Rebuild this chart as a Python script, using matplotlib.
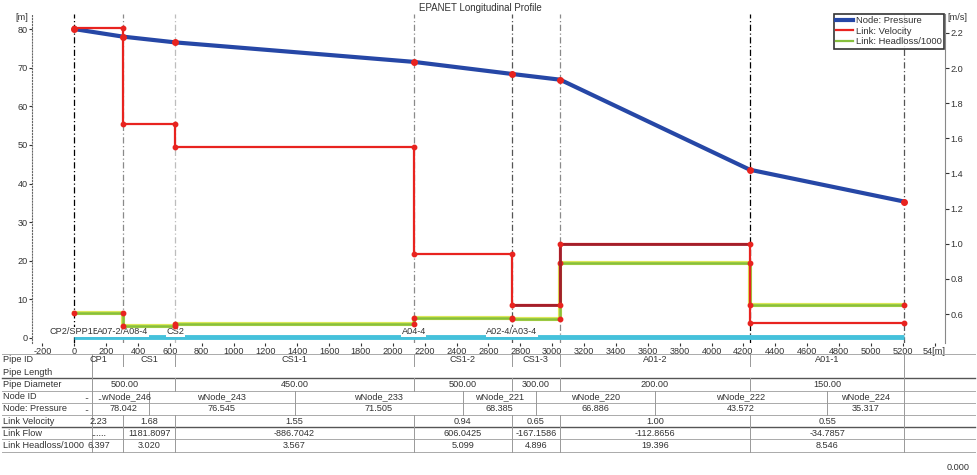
import numpy as np
import matplotlib
matplotlib.use('Agg')
import matplotlib.pyplot as plt
import matplotlib.patheffects as pe
from matplotlib.lines import Line2D
from matplotlib.ticker import MultipleLocator, FuncFormatter

plt.rcParams['font.family'] = ['Liberation Sans', 'DejaVu Sans']

# profile nodes (chainage in m)
node_x = [0, 305, 635, 2130, 2745, 3050, 4240, 5210]
node_names = ['CP2/SPP1E', 'A07-2/A08-4', 'CS2', 'A04-4', 'A02-4/A03-4', '', '', '']
node_ids = ['..', '..wNode_246', 'wNode_243', 'wNode_233', 'wNode_221', 'wNode_220', 'wNode_222', 'wNode_224']
node_pressure = [80.0, 78.042, 76.545, 71.505, 68.385, 66.886, 43.572, 35.317]
node_elevation = [0.3, 0.3, 0.3, 0.3, 0.3, 0.3, 0.3, 0.3]

# links between consecutive nodes
pipe_ids = ['CP1', 'CS1', 'CS1-1', 'CS1-2', 'CS1-3', 'A01-2', 'A01-1']
pipe_diameter = [500.00, 500.00, 450.00, 500.00, 300.00, 200.00, 150.00]
link_velocity = [2.23, 1.68, 1.55, 0.94, 0.65, 1.00, 0.55]
link_flow = [None, 1181.8097, -886.7042, 606.0425, -167.1586, -112.8656, -34.7857]
link_headloss = [6.397, 3.020, 3.567, 5.099, 4.896, 19.396, 8.546]

row_names = ['Pipe ID', 'Pipe Length', 'Pipe Diameter', 'Node ID', 'Node: Pressure',
             'Link Velocity', 'Link Flow', 'Link Headloss/1000']

# styling
vline_colors = ['black', '#8a8a8a', '#bdbdbd', '#8a8a8a', '#555555', '#8a8a8a', 'black', '#555555']
dark_links = {4, 5}
RED = '#e8231f'
DARK_RED = '#a31e2a'
GREEN = '#86bf3c'
BLUE = '#2647a6'
TXT = '#333333'
FS = 6.6

W, H = 978, 475
def fx(p):
    return p / W
def fy(p):
    return 1 - p / H

fig = plt.figure(figsize=(W / 100, H / 100), dpi=100)
ax = fig.add_axes([fx(32), fy(343), fx(945) - fx(32), fy(14) - fy(343)])
ax.set_xlim(-265, 5465)
ax.set_ylim(-1.3, 83.9)
ax2 = ax.twinx()
ax2.set_ylim(0.435, 2.308)

# node verticals
for x, c in zip(node_x, vline_colors):
    ax.axvline(x, color=c, lw=0.9, ls=(0, (5, 2, 1, 2)), zorder=1)

# pipe line along the bottom
ax.plot(node_x, node_elevation, color='#45c1db', lw=3.5, solid_capstyle='butt', zorder=2)
for x, name in zip(node_x, node_names):
    if name:
        ax.text(x, 1.6, name, ha='center', va='center', fontsize=FS, color=TXT, zorder=3,
                bbox=dict(boxstyle='square,pad=0.05', fc='white', ec='none'))

# headloss / 1000 (left axis)
sx = np.repeat(node_x, 2)[1:-1]
hs = np.repeat(link_headloss, 2)
ax.plot(sx, hs, color=GREEN, lw=1.8, zorder=4,
        path_effects=[pe.Stroke(linewidth=3.0, foreground='#dbe85a'), pe.Normal()])
ax.plot(sx, hs, 'o', color=RED, ms=3.2, zorder=6)

# node pressure
ax.plot(node_x, node_pressure, color=BLUE, lw=3.0, zorder=5, solid_capstyle='round')
ax.plot(node_x, node_pressure, 'o', color=RED, ms=4, zorder=6)

# link velocity (right axis)
vs = np.repeat(link_velocity, 2)
ax2.plot(sx, vs, color=RED, lw=1.6, zorder=4)
for i in dark_links:
    ax2.plot(node_x[i:i + 2], [link_velocity[i]] * 2, color=DARK_RED, lw=2.0, zorder=5)
    if i + 1 in dark_links:
        ax2.plot([node_x[i + 1]] * 2, link_velocity[i:i + 2], color=DARK_RED, lw=2.0, zorder=5)
ax2.plot(sx, vs, 'o', color=RED, ms=3.2, zorder=6)

# axes cosmetics
for s in ['top', 'bottom', 'right']:
    ax.spines[s].set_visible(False)
ax.spines['left'].set_linestyle(':')
ax.spines['left'].set_color('#666666')
for s in ['top', 'bottom', 'left']:
    ax2.spines[s].set_visible(False)
ax2.spines['right'].set_color('#888888')

ax.xaxis.set_major_locator(MultipleLocator(200))
ax.xaxis.set_major_formatter(FuncFormatter(lambda v, p: '54[m]' if v == 5400 else '%d' % v))
ax.yaxis.set_major_locator(MultipleLocator(10))
ax.tick_params(axis='x', length=2, pad=1, labelsize=FS, colors=TXT)
ax.tick_params(axis='y', length=2, pad=1, labelsize=FS, colors=TXT)
ax2.yaxis.set_major_locator(MultipleLocator(0.2))
ax2.yaxis.set_major_formatter(FuncFormatter(lambda v, p: '%.1f' % v))
ax2.tick_params(axis='y', length=3, pad=1, labelsize=FS, colors=TXT)

fig.text(fx(480), fy(8), 'EPANET Longitudinal Profile', ha='center', va='center', fontsize=7, color=TXT)
fig.text(fx(22), fy(17), '[m]', ha='center', va='center', fontsize=FS, color=TXT)
fig.text(fx(957), fy(18), '[m/s]', ha='center', va='center', fontsize=FS, color=TXT)
fig.text(fx(958), fy(467), '0.000', ha='center', va='center', fontsize=FS, color=TXT)

handles = [Line2D([], [], color=BLUE, lw=3), Line2D([], [], color=RED, lw=1.6),
           Line2D([], [], color=GREEN, lw=1.6)]
leg = ax.legend(handles, ['Node: Pressure', 'Link: Velocity', 'Link: Headloss/1000'],
                loc='upper right', bbox_to_anchor=(0.999, 1.0), fontsize=6.8, frameon=True,
                fancybox=False, borderpad=0.25, labelspacing=0.15, handlelength=1.8,
                handletextpad=0.3, borderaxespad=0)
leg.get_frame().set_edgecolor('black')
leg.get_frame().set_linewidth(1.2)
leg.set_zorder(10)
for t in leg.get_texts():
    t.set_color(TXT)

# data table under the profile, x aligned with the chart axis
tab = fig.add_axes([0, 0, 1, fy(345)])
x0, x1 = ax.get_xlim()
k = (x1 - x0) / (945 - 32)
tab.set_xlim(x0 - 32 * k, x1 + (W - 945) * k)
tab.set_ylim(H, 345)
tab.axis('off')

def px(p):
    return x0 + (p - 32) * k

row_h = 12.2
row_y = [360 + row_h * i for i in range(len(row_names))]

for i, name in enumerate(row_names):
    tab.text(px(3), row_y[i], name, ha='left', va='center', fontsize=FS, color=TXT)

for i in range(len(row_names) + 1):
    if i == 1:
        continue
    y = row_y[0] - row_h / 2 + row_h * i
    dark = i in (2, 6)
    tab.plot([px(2), px(975)], [y, y], color='#555555' if dark else '#aaaaaa',
             lw=1.0 if dark else 0.7)

def vsep(x, r):
    tab.plot([x, x], [row_y[r] - row_h / 2, row_y[r] + row_h / 2], color='#999999', lw=0.7)

for r in range(len(row_names)):
    vsep(px(92), r)
    vsep(node_x[-1], r)

# pipe rows
mids = [(a + b) / 2 for a, b in zip(node_x[:-1], node_x[1:])]
for xb in node_x[1:-1]:
    vsep(xb, 0)
for i, pid in enumerate(pipe_ids):
    tab.text(mids[i], row_y[0], pid, ha='center', va='center', fontsize=FS, color=TXT)

# diameter row merges equal neighbours
start = 0
for i in range(1, len(pipe_diameter) + 1):
    if i == len(pipe_diameter) or pipe_diameter[i] != pipe_diameter[start]:
        xa, xb = node_x[start], node_x[i]
        tab.text((xa + xb) / 2, row_y[2], '%.2f' % pipe_diameter[start], ha='center',
                 va='center', fontsize=FS, color=TXT)
        if i < len(pipe_diameter):
            vsep(node_x[i], 2)
        start = i

# node rows
for xb in mids[1:]:
    vsep(xb, 3)
    vsep(xb, 4)
edges = [node_x[0]] + mids + [node_x[-1]]
for i in range(len(node_x)):
    xc = (edges[i] + edges[i + 1]) / 2
    tab.text(xc, row_y[3], node_ids[i], ha='center', va='center', fontsize=FS, color=TXT)
    ptxt = '..' if i == 0 else '%.3f' % node_pressure[i]
    tab.text(xc, row_y[4], ptxt, ha='center', va='center', fontsize=FS, color=TXT)

# link rows
for r in (5, 6, 7):
    for xb in node_x[1:-1]:
        vsep(xb, r)
for i in range(len(pipe_ids)):
    tab.text(mids[i], row_y[5], '%.2f' % link_velocity[i], ha='center', va='center',
             fontsize=FS, color=TXT)
    ftxt = '......' if link_flow[i] is None else '%.4f' % link_flow[i]
    tab.text(mids[i], row_y[6], ftxt, ha='center', va='center', fontsize=FS, color=TXT)
    tab.text(mids[i], row_y[7], '%.3f' % link_headloss[i], ha='center', va='center',
             fontsize=FS, color=TXT)

fig.savefig('out.png', dpi=100)
